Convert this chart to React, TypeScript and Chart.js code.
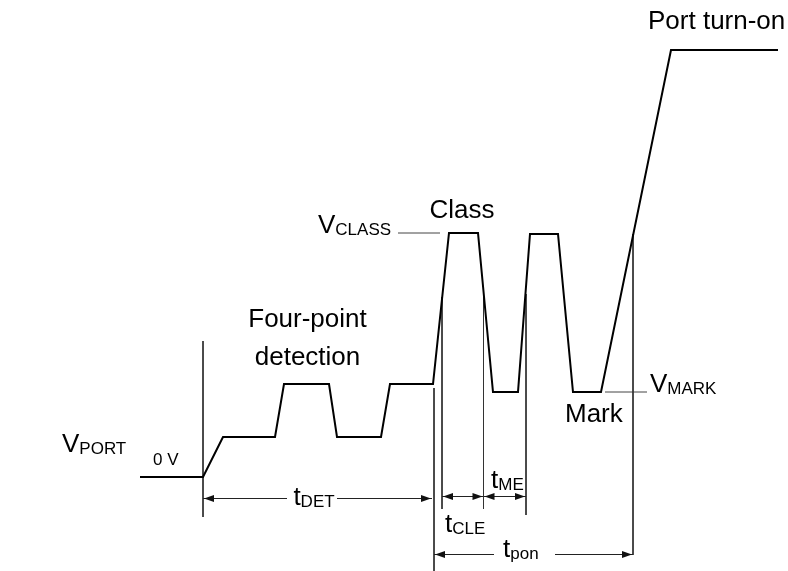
import React, { useEffect, useRef } from "react";
import { Chart, registerables } from "chart.js";

Chart.register(...registerables);

// Time axis (arbitrary units) and voltage axis (arbitrary units)
const X_RANGE = [-20.3, 58.5];
const Y_RANGE = [-9.4, 47.7];

// Port voltage waveform
const waveTime = [-6.3, 0, 2.0, 7.2, 8.1, 12.6, 13.4, 17.8, 18.7, 23.0, 24.6, 27.5, 29.0, 31.5, 32.7, 35.5, 37.0, 39.8, 46.8, 57.5];
const waveVolt = [0, 0, 4.0, 4.0, 9.3, 9.3, 4.0, 4.0, 9.3, 9.3, 24.4, 24.4, 8.5, 8.5, 24.3, 24.3, 8.5, 8.5, 42.7, 42.7];

// Vertical timing markers
const markerTime = [0, 23.1, 23.9, 28.05, 32.3, 43.0];
const markerTop = [13.6, 8.9, 18.0, 18.3, 18.3, 24.3];
const markerBottom = [-4.0, -9.4, -3.2, -3.2, -3.8, -7.8];

// Reference level lines (VCLASS, VMARK)
const refLevel = [24.4, 8.5];
const refStart = [19.5, 40.2];
const refEnd = [23.7, 44.4];

// Dimension arrows
const arrowLevel = [-2.05, -1.95, -1.95, -7.7];
const arrowStart = [0, 23.9, 28.05, 23.1];
const arrowEnd = [22.9, 28.05, 32.3, 43.0];
const arrowGapStart = [8.4, null, null, 29.1];
const arrowGapEnd = [13.4, null, null, 35.2];

// Labels: main text, subscript
const labelMain = ["Port turn-on", "V", "Class", "Four-point", "detection", "V", "0 V", "V", "Mark", "t", "t", "t", "t"];
const labelSub = ["", "CLASS", "", "", "", "PORT", "", "MARK", "", "DET", "CLE", "ME", "pon"];
const labelTime = [44.5, 11.5, 25.9, 10.45, 10.45, -14.1, -5.0, 44.7, 36.2, 11.1, 24.2, 28.8, 30.0];
const labelVolt = [44.8, 24.4, 25.9, 15.0, 11.2, 2.5, 1.2, 8.5, 5.5, -2.8, -5.5, -1.1, -8.0];
const labelAlign = ["left", "left", "center", "center", "center", "left", "left", "left", "left", "center", "left", "left", "left"];
const labelSmall = [false, false, false, false, false, false, true, false, false, false, false, false, false];

const FONT = '"Liberation Sans", Arial, sans-serif';
const MAIN_SIZE = 26;
const SUB_SIZE = 17;

const overlayPlugin = {
  id: "overlay",
  afterDatasetsDraw(chart: any) {
    const { ctx } = chart;
    const xs = chart.scales.x;
    const ys = chart.scales.y;
    ctx.save();
    // arrows
    ctx.strokeStyle = "#222";
    ctx.fillStyle = "#111";
    ctx.lineWidth = 1;
    const head = (x: number, y: number, dir: number) => {
      ctx.beginPath();
      ctx.moveTo(x, y);
      ctx.lineTo(x - dir * 10, y - 3.5);
      ctx.lineTo(x - dir * 10, y + 3.5);
      ctx.closePath();
      ctx.fill();
    };
    arrowLevel.forEach((lv, i) => {
      const y = Math.round(ys.getPixelForValue(lv)) + 0.5;
      const x1 = xs.getPixelForValue(arrowStart[i]);
      const x2 = xs.getPixelForValue(arrowEnd[i]);
      ctx.beginPath();
      if (arrowGapStart[i] != null) {
        const g1 = xs.getPixelForValue(arrowGapStart[i] as number);
        const g2 = xs.getPixelForValue(arrowGapEnd[i] as number);
        ctx.moveTo(x1, y);
        ctx.lineTo(g1, y);
        ctx.moveTo(g2, y);
        ctx.lineTo(x2, y);
      } else {
        ctx.moveTo(x1, y);
        ctx.lineTo(x2, y);
      }
      ctx.stroke();
      head(x1 + 1, y, -1);
      head(x2 - 1, y, 1);
    });
    // labels
    ctx.fillStyle = "#000";
    ctx.textBaseline = "alphabetic";
    ctx.textAlign = "left";
    labelMain.forEach((m, i) => {
      const mainSize = labelSmall[i] ? 17 : MAIN_SIZE;
      ctx.font = `${mainSize}px ${FONT}`;
      const wMain = ctx.measureText(m).width;
      const sub = labelSub[i];
      ctx.font = `${SUB_SIZE}px ${FONT}`;
      const wSub = sub ? ctx.measureText(sub).width : 0;
      const total = wMain + wSub;
      let x = xs.getPixelForValue(labelTime[i]);
      const y = ys.getPixelForValue(labelVolt[i]);
      if (labelAlign[i] === "center") x -= total / 2;
      ctx.font = `${mainSize}px ${FONT}`;
      ctx.fillText(m, x, y);
      if (sub) {
        ctx.font = `${SUB_SIZE}px ${FONT}`;
        ctx.fillText(sub, x + wMain, y + 1.5);
      }
    });
    ctx.restore();
  },
};

export default function App() {
  const ref = useRef<HTMLCanvasElement | null>(null);
  useEffect(() => {
    if (!ref.current) return;
    const datasets: any[] = [];
    datasets.push({
      data: waveTime.map((t, i) => ({ x: t, y: waveVolt[i] })),
      borderColor: "#000",
      borderWidth: 2,
      pointRadius: 0,
      tension: 0,
      fill: false,
      borderJoinStyle: "miter",
    });
    markerTime.forEach((t, i) => {
      datasets.push({
        data: [
          { x: t, y: markerTop[i] },
          { x: t, y: markerBottom[i] },
        ],
        borderColor: "#333",
        borderWidth: 1,
        pointRadius: 0,
        fill: false,
      });
    });
    refLevel.forEach((lv, i) => {
      datasets.push({
        data: [
          { x: refStart[i], y: lv },
          { x: refEnd[i], y: lv },
        ],
        borderColor: "#444",
        borderWidth: 1,
        pointRadius: 0,
        fill: false,
      });
    });
    const chart = new Chart(ref.current, {
      type: "line",
      data: { datasets },
      options: {
        responsive: false,
        animation: false,
        events: [],
        layout: { padding: 0 },
        plugins: { legend: { display: false }, tooltip: { enabled: false } },
        scales: {
          x: { type: "linear", min: X_RANGE[0], max: X_RANGE[1], display: false },
          y: { type: "linear", min: Y_RANGE[0], max: Y_RANGE[1], display: false },
        },
      },
      plugins: [overlayPlugin],
    });
    return () => chart.destroy();
  }, []);
  return (
    <div style={{ position: "fixed", left: 0, top: 0, width: 788, height: 571, background: "#fff" }}>
      <canvas ref={ref} width={788} height={571} style={{ display: "block" }} />
    </div>
  );
}
